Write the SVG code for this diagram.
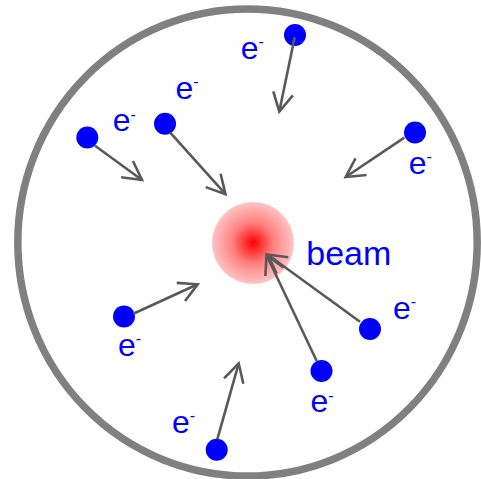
<svg xmlns="http://www.w3.org/2000/svg" width="481" height="479" viewBox="0 0 481 479">
  <style>
    .ring { fill: none; stroke: #808080; stroke-width: 7.5; }
    .electron { fill: #0000ff; }
    .lbl { font-family: "Liberation Sans", Arial, sans-serif; font-size: 32px; fill: #0000ff; }
    .sup { font-size: 16px; }
    .beamlbl { font-family: "Liberation Sans", Arial, sans-serif; font-size: 34px; fill: #0000ff; }
    .conn line { stroke: #595959; stroke-width: 2.6; marker-end: url(#open); }
  </style>
  <defs>
    <radialGradient id="beamGrad" cx="0.5" cy="0.5" r="0.5">
      <stop offset="0" stop-color="#ff0000"/>
      <stop offset="0.5" stop-color="#ff8080"/>
      <stop offset="1" stop-color="#ffc4c4"/>
    </radialGradient>
    <marker id="open" markerUnits="userSpaceOnUse" markerWidth="30" markerHeight="30" viewBox="-24 -15 30 30" refX="0" refY="0" orient="auto" overflow="visible">
      <path d="M-18.5,-10 L0,0 L-18.5,10" fill="none" stroke="#595959" stroke-width="2.6" stroke-linejoin="miter"/>
    </marker>
  </defs>

  <g id="chamber">
    <ellipse class="ring" cx="247.5" cy="242.5" rx="229.7" ry="233.6"/>
  </g>

  <g id="beam">
    <circle cx="253" cy="243" r="41" fill="url(#beamGrad)"/>
    <text class="beamlbl" x="306.3" y="264.5">beam</text>
  </g>

  <g id="e1">
    <circle class="electron" cx="295" cy="35" r="11"/>
    <text class="lbl" x="240.7" y="59">e<tspan class="sup" dy="-11.7">-</tspan></text>
  </g>
  <g id="e2">
    <circle class="electron" cx="87.3" cy="137.5" r="11"/>
    <text class="lbl" x="112.7" y="131.3">e<tspan class="sup" dy="-11.7">-</tspan></text>
  </g>
  <g id="e3">
    <circle class="electron" cx="165" cy="123.8" r="11"/>
    <text class="lbl" x="175.4" y="98.6">e<tspan class="sup" dy="-11.7">-</tspan></text>
  </g>
  <g id="e4">
    <circle class="electron" cx="415" cy="132.5" r="11"/>
    <text class="lbl" x="408.7" y="174">e<tspan class="sup" dy="-11.7">-</tspan></text>
  </g>
  <g id="e5">
    <circle class="electron" cx="124" cy="316.5" r="11"/>
    <text class="lbl" x="118" y="355.6">e<tspan class="sup" dy="-11.7">-</tspan></text>
  </g>
  <g id="e6">
    <circle class="electron" cx="370" cy="329" r="11"/>
    <text class="lbl" x="393" y="319">e<tspan class="sup" dy="-11.7">-</tspan></text>
  </g>
  <g id="e7">
    <circle class="electron" cx="321.5" cy="371" r="11"/>
    <text class="lbl" x="310.4" y="412.3">e<tspan class="sup" dy="-11.7">-</tspan></text>
  </g>
  <g id="e8">
    <circle class="electron" cx="216.7" cy="449.7" r="11"/>
    <text class="lbl" x="172" y="433">e<tspan class="sup" dy="-11.7">-</tspan></text>
  </g>

  <g id="connectors" class="conn">
    <line x1="294.7" y1="37.3" x2="279.3" y2="111.5"/>
    <line x1="95" y1="145.7" x2="142" y2="180"/>
    <line x1="170" y1="132.3" x2="225.5" y2="194.2"/>
    <line x1="404.3" y1="137.7" x2="345.7" y2="177"/>
    <line x1="133.3" y1="313.7" x2="197.7" y2="284.3"/>
    <line x1="360" y1="321.7" x2="267.5" y2="254.5"/>
    <line x1="316.7" y1="361" x2="266.5" y2="255"/>
    <line x1="217.3" y1="439.3" x2="238.7" y2="363.3"/>
  </g>
</svg>
